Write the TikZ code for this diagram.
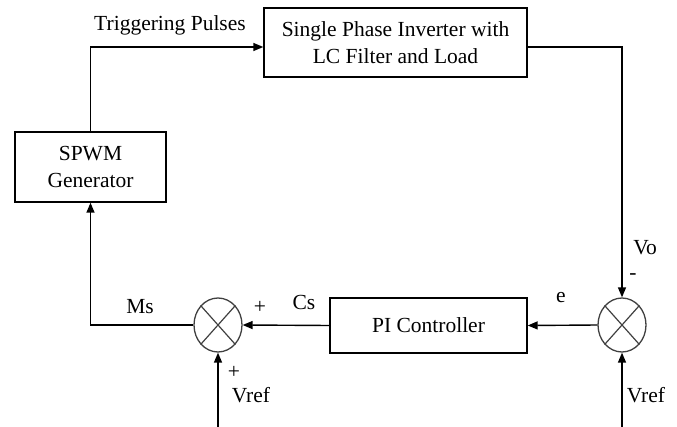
\documentclass[tikz,border=0pt]{standalone}
\usepackage{fontspec}
\setmainfont{Liberation Serif}
\usetikzlibrary{shapes.geometric,arrows.meta,calc}
\begin{document}
\begin{tikzpicture}[x=1pt,y=-1pt,
  every node/.style={font=\fontsize{21.5}{27}\selectfont, text=black},
  blockbox/.style={draw, line width=1.4pt, rectangle, inner sep=0pt, align=center},
  sumjunc/.style={draw=black!75, line width=1.3pt, ellipse, minimum width=48pt, minimum height=54pt, inner sep=0pt},
  conn/.style={line width=1.4pt},
  arr/.style={conn, -{Triangle[length=10pt,width=8pt]}},
  lbl/.style={inner sep=0pt}]
\useasboundingbox (0,0) rectangle (677,427);
\node[blockbox, minimum width=263pt, minimum height=69pt] (inv) at (395.5,42.5) {Single Phase Inverter with\\LC Filter and Load};
\node[blockbox, minimum width=151pt, minimum height=70pt] (spwm) at (90.5,167) {SPWM\\Generator};
\node[blockbox, minimum width=197pt, minimum height=55pt] (pi) at (428.5,325.5) {PI Controller};
\node[sumjunc] (s1) at (218,325) {};
\node[sumjunc] (s2) at (622,325) {};
\foreach \s in {s1,s2}{
  \draw[black!75, line width=1.2pt] (\s.north east) -- (\s.south west);
  \draw[black!75, line width=1.2pt] (\s.north west) -- (\s.south east);
}
\coordinate (tp) at (0,47);
\coordinate (b1) at (218,427);
\coordinate (b2) at (622,427);
\draw[arr] (spwm.north) |- (inv.west |- tp);
\draw[arr] (inv.east |- tp) -| (s2.north);
\draw[arr] (s2.west) -- (pi.east);
\draw[arr] (pi.west) -- (s1.east);
\draw[arr] (s1.west) -| (spwm.south);
\draw[arr] (b1) -- (s1.south);
\draw[arr] (b2) -- (s2.south);
\node[lbl] (ltp) at (170,25) {Triggering Pulses};
\node[lbl] (lms) at (140,307) {Ms};
\node[lbl] (lp1) at (260,307) {+};
\node[lbl] (lcs) at (304,302) {Cs};
\node[lbl] (le) at (561,298) {e};
\node[lbl] (lvo) at (645,248) {Vo};
\node[lbl] (lm) at (633,277) {-};
\node[lbl] (lp2) at (234,372) {+};
\node[lbl] (lv1) at (251,395) {Vref};
\node[lbl] (lv2) at (646,395) {Vref};
\end{tikzpicture}
\end{document}
